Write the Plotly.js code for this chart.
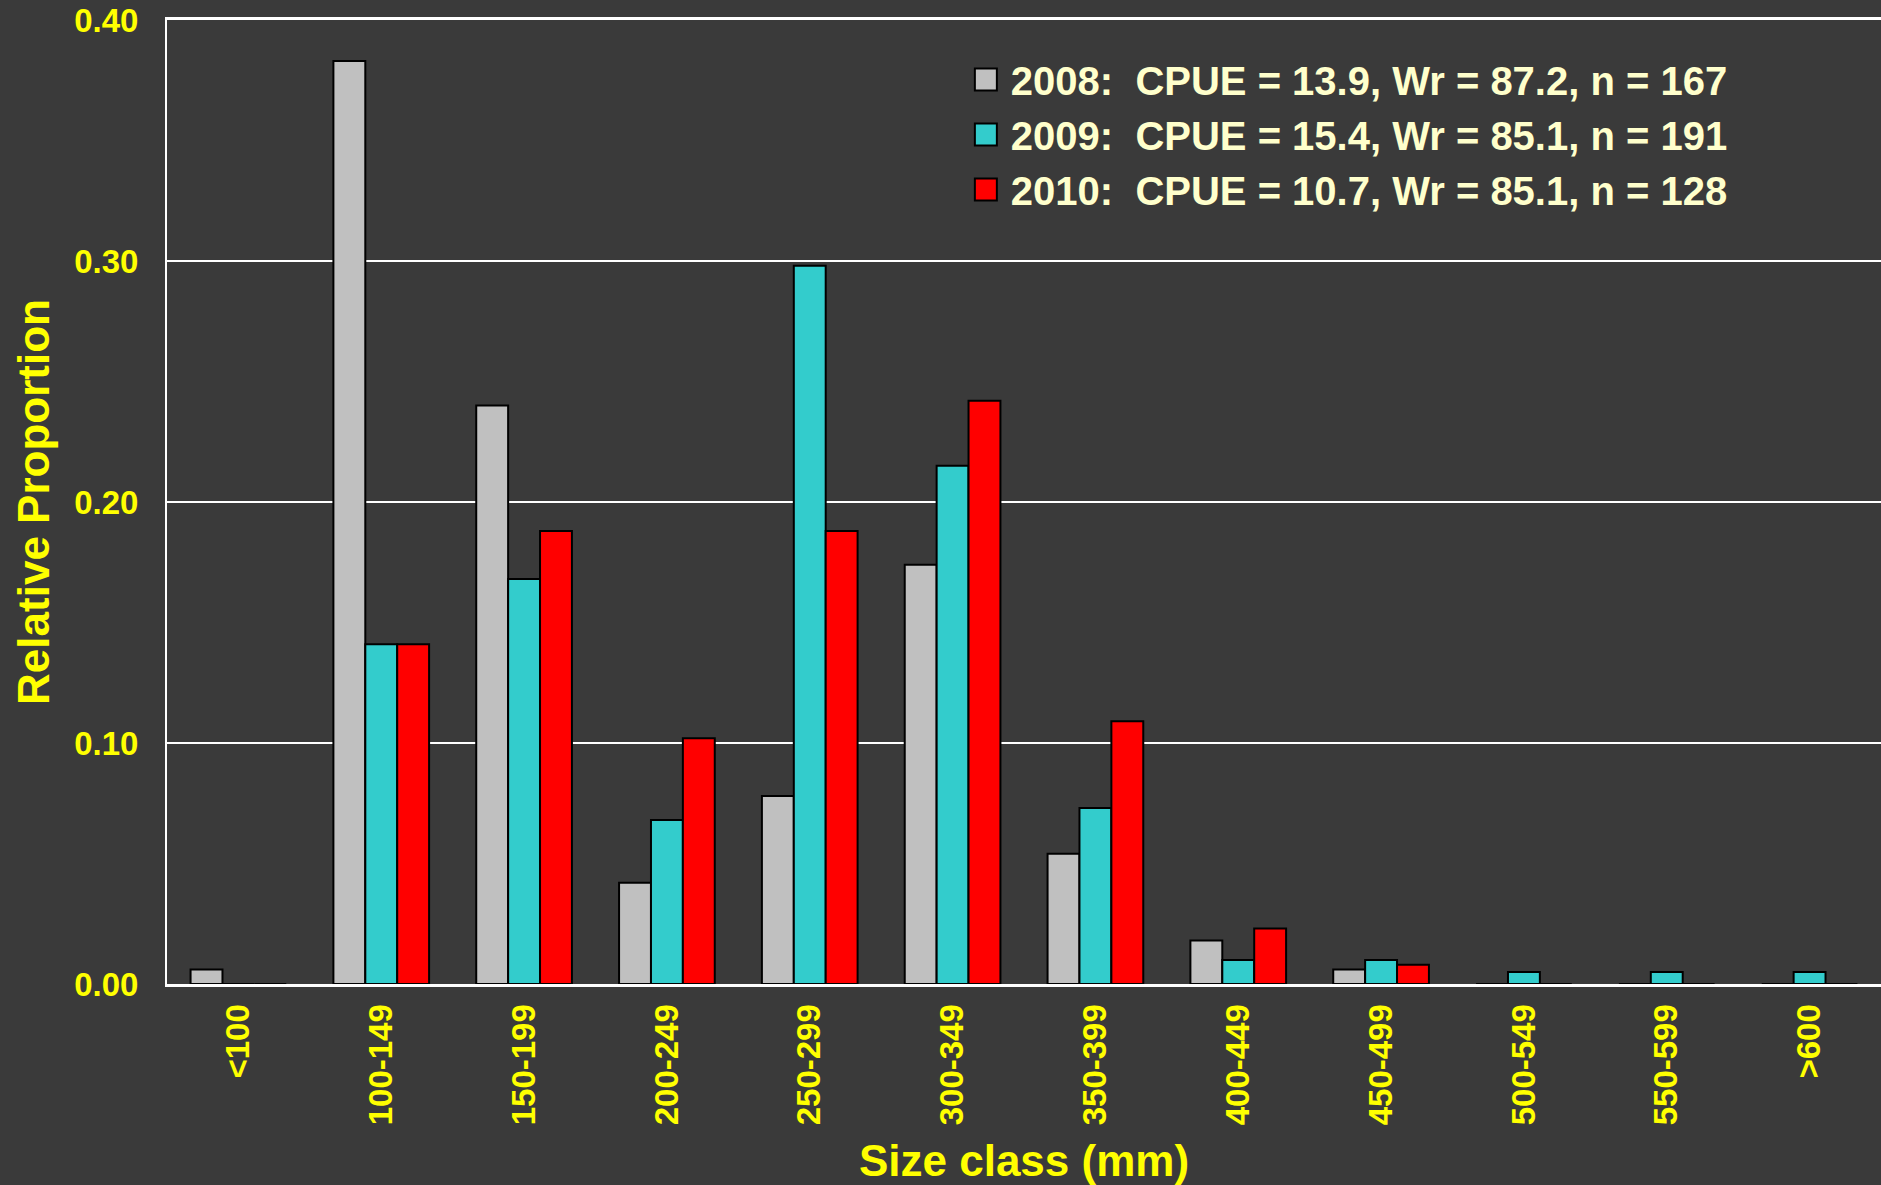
<!DOCTYPE html>
<html>
<head>
<meta charset="utf-8">
<script src="https://cdn.plot.ly/plotly-3.0.1.min.js"></script>
<style>
html,body{margin:0;padding:0;background:#3a3a3a;}
#chart{width:1881px;height:1185px;}
</style>
</head>
<body>
<div id="chart"></div>
<script>
const sizeClasses = ["<100","100-149","150-199","200-249","250-299","300-349","350-399","400-449","450-499","500-549","550-599",">600"];
const yTickVals = [0, 0.1, 0.2, 0.3, 0.4];
const yTickText = ["0.00","0.10","0.20","0.30","0.40"];
const legend2008 = "2008:&nbsp; CPUE = 13.9, Wr = 87.2, n = 167";
const legend2009 = "2009:&nbsp; CPUE = 15.4, Wr = 85.1, n = 191";
const legend2010 = "2010:&nbsp; CPUE = 10.7, Wr = 85.1, n = 128";
const prop2008 = [0.006, 0.383, 0.240, 0.042, 0.078, 0.174, 0.054, 0.018, 0.006, 0, 0, 0];
const prop2009 = [0, 0.141, 0.168, 0.068, 0.298, 0.215, 0.073, 0.010, 0.010, 0.005, 0.005, 0.005];
const prop2010 = [0, 0.141, 0.188, 0.102, 0.188, 0.242, 0.109, 0.023, 0.008, 0, 0, 0];

const yellow = "#FFFF00";
const baseFont = "Liberation Sans, Arial, sans-serif";
const narrowFont = "Liberation Sans Narrow, Arial Narrow, Liberation Sans, sans-serif";

function barTrace(name, y, color, grp){
  return {type:"bar", name:name, x:sizeClasses, y:y, legendgroup:grp,
    marker:{color:color, line:{color:"#000000", width:2}}, hoverinfo:"x+y"};
}
const data = [
  barTrace(legend2008, prop2008, "#C0C0C0", "a"),
  barTrace(legend2009, prop2009, "#33CCCC", "b"),
  barTrace(legend2010, prop2010, "#FF0000", "c")
];
const layout = {
  width:1881, height:1185,
  paper_bgcolor:"#3a3a3a", plot_bgcolor:"#3a3a3a",
  margin:{l:167, r:0, t:20, b:201, pad:0},
  barmode:"group", bargap:0.33, bargroupgap:0,
  showlegend:true,
  legend:{x:0.469, xanchor:"left", y:0.972, yanchor:"top", bgcolor:"rgba(0,0,0,0)", borderwidth:0,
    font:{family:narrowFont, size:40, color:"#FFFFCC", weight:"bold"}, tracegroupgap:5, itemwidth:30, traceorder:"normal"},
  font:{family:baseFont, color:yellow},
  xaxis:{type:"category", showgrid:false, zeroline:false, showline:true, linecolor:"#FFFFFF", linewidth:3, mirror:true,
    layer:"above traces",
    ticks:"", tickangle:-90, ticklabelstandoff:4,
    tickfont:{family:baseFont, size:33, color:yellow, weight:"bold"},
    title:{text:"Size class (mm)", font:{family:baseFont, size:44, color:yellow, weight:"bold"}, standoff:21},
    automargin:false, fixedrange:true},
  yaxis:{range:[0,0.4], tickvals:yTickVals, ticktext:yTickText, showgrid:true, gridcolor:"#FFFFFF", gridwidth:2.5,
    zeroline:false, showline:true, linecolor:"#FFFFFF", linewidth:2, ticks:"", ticklabelstandoff:20,
    tickfont:{family:baseFont, size:33, color:yellow, weight:"bold"},
    title:{text:"Relative Proportion", font:{family:baseFont, size:44, color:yellow, weight:"bold"}, standoff:11},
    automargin:false, fixedrange:true}
};
Plotly.newPlot("chart", data, layout, {displayModeBar:false, staticPlot:true}).then(function(){
  document.querySelectorAll("#chart .legendpoints path").forEach(function(p){
    p.setAttribute("d","M6,11H-16V-11H6Z");
    p.style.strokeWidth = "2px";
    p.style.stroke = "#000000";
  });
});
</script>
</body>
</html>
